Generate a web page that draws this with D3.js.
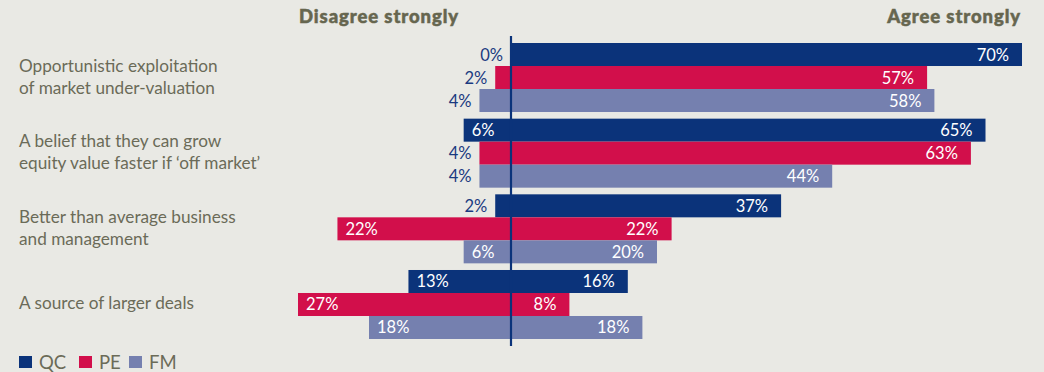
<!DOCTYPE html>
<html>
<head>
<meta charset="utf-8">
<script src="https://cdn.jsdelivr.net/npm/d3@7"></script>
<style>
  html, body { margin: 0; padding: 0; background: #e9e9e4; }
  svg { display: block; font-family: Lato, "Open Sans", sans-serif; }
</style>
</head>
<body>
<svg id="chart" width="1044" height="372"></svg>
<script>
// Reasons statements, one entry per row group (lines split on "\n")
const categories = [
  "Opportunistic exploitation\nof market under-valuation",
  "A belief that they can grow\nequity value faster if \u2018off market\u2019",
  "Better than average business\nand management",
  "A source of larger deals"
];
const seriesNames = ["QC", "PE", "FM"];

// Share disagreeing strongly (drawn left of the centre line)
const disagreeQC = [0, 6, 2, 13];
const disagreePE = [2, 4, 22, 27];
const disagreeFM = [4, 4, 6, 18];

// Share agreeing strongly (drawn right of the centre line)
const agreeQC = [70, 65, 37, 16];
const agreePE = [57, 63, 22, 8];
const agreeFM = [58, 44, 20, 18];

const headerLeft = "Disagree strongly";
const headerRight = "Agree strongly";

const colors = { QC: "#0b337a", PE: "#d20f4b", FM: "#7580af" };
const textGrey = "#6b6b58";

const disagree = { QC: disagreeQC, PE: disagreePE, FM: disagreeFM };
const agree = { QC: agreeQC, PE: agreePE, FM: agreeFM };

const svg = d3.select("#chart");

// Diverging value scale: negative = disagree, positive = agree
const x = d3.scaleLinear().domain([-27, 0, 70]).range([298, 511, 1022]);

const yGroup = d3.scaleBand().domain(categories).range([43, 339]).paddingInner(0.088);
const ySeries = d3.scaleBand().domain(seriesNames).range([0, yGroup.bandwidth()]);

const rows = [];
categories.forEach((c, i) => {
  seriesNames.forEach(s => {
    rows.push({ cat: c, series: s, dis: disagree[s][i], agr: agree[s][i] });
  });
});

const barY = d => yGroup(d.cat) + ySeries(d.series);
const bh = ySeries.bandwidth();

// Headers (heavy, slightly tracked)
function header(txt, xPos, anchor) {
  svg.append("text").attr("x", xPos).attr("y", 23)
    .attr("text-anchor", anchor)
    .attr("font-size", 18.5).attr("font-weight", 900)
    .attr("letter-spacing", 0.9)
    .attr("fill", "#66664f")
    .attr("stroke", "#66664f").attr("stroke-width", 0.5)
    .text(txt);
}
header(headerLeft, 299, "start");
header(headerRight, 1021, "end");

// Bars
const g = svg.append("g");
g.selectAll("rect.dis").data(rows).join("rect")
  .attr("class", "dis")
  .attr("x", d => x(-d.dis))
  .attr("y", barY)
  .attr("width", d => x(0) - x(-d.dis))
  .attr("height", bh)
  .attr("fill", d => colors[d.series]);

g.selectAll("rect.agr").data(rows).join("rect")
  .attr("class", "agr")
  .attr("x", x(0))
  .attr("y", barY)
  .attr("width", d => x(d.agr) - x(0))
  .attr("height", bh)
  .attr("fill", d => colors[d.series]);

// Centre line
svg.append("line")
  .attr("x1", x(0)).attr("x2", x(0))
  .attr("y1", 36).attr("y2", 346)
  .attr("stroke", "#0b337a").attr("stroke-width", 2.2);

// Value labels
const lblSize = 16.5;
g.selectAll("text.dis").data(rows).join("text")
  .attr("class", "dis")
  .attr("font-size", lblSize)
  .attr("y", d => barY(d) + bh / 2 + 6)
  .attr("x", d => d.dis >= 6 ? x(-d.dis) + 8 : x(-d.dis) - 8)
  .attr("text-anchor", d => d.dis >= 6 ? "start" : "end")
  .attr("fill", d => d.dis >= 6 ? "#ffffff" : "#1a3a80")
  .text(d => d.dis + "%");

g.selectAll("text.agr").data(rows).join("text")
  .attr("class", "agr")
  .attr("font-size", lblSize)
  .attr("y", d => barY(d) + bh / 2 + 6)
  .attr("x", d => x(d.agr) - 13)
  .attr("text-anchor", "end")
  .attr("fill", "#ffffff")
  .text(d => d.agr + "%");

// Category labels, vertically centred on each group
const lineH = 22;
categories.forEach(c => {
  const lines = c.split("\n");
  const cy = yGroup(c) + yGroup.bandwidth() / 2;
  const t = svg.append("text").attr("font-size", 17.2).attr("fill", textGrey);
  lines.forEach((ln, i) => {
    t.append("tspan").attr("x", 19)
      .attr("y", cy + 5 + (i - (lines.length - 1) / 2) * lineH)
      .text(ln);
  });
});

// Legend
const legend = svg.append("g");
const legendX = [19, 79, 129];
seriesNames.forEach((s, i) => {
  legend.append("rect").attr("x", legendX[i]).attr("y", 356)
    .attr("width", 13).attr("height", 12).attr("fill", colors[s]);
  legend.append("text").attr("x", legendX[i] + 20).attr("y", 368.5)
    .attr("font-size", 18.5).attr("fill", textGrey).text(s);
});
</script>
</body>
</html>
